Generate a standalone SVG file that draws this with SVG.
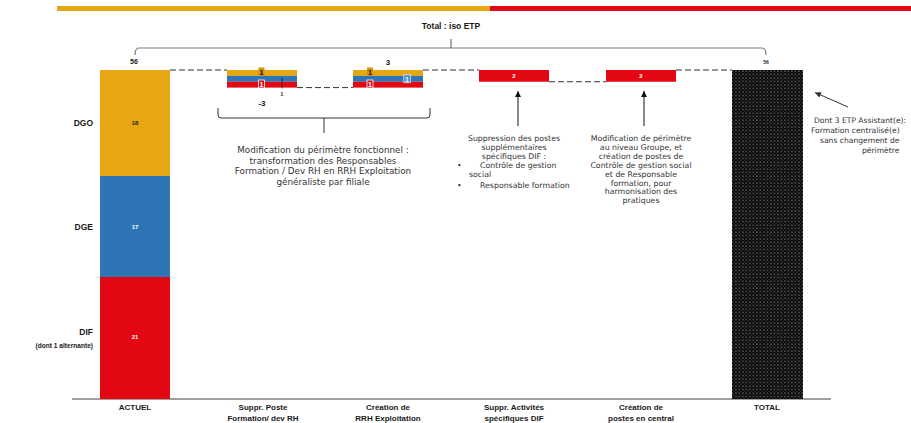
<svg xmlns="http://www.w3.org/2000/svg" width="911" height="423" viewBox="0 0 911 423">
<style>
.lbl{font-family:"Liberation Sans",Arial,sans-serif;font-weight:bold;fill:#1a1a1a}
.ann{font-family:"DejaVu Sans","Liberation Sans",sans-serif;fill:#333}
.val{font-family:"Liberation Sans",Arial,sans-serif;font-weight:bold}
.dash{stroke:#333;stroke-width:1;stroke-dasharray:6 3;fill:none}
.yel{fill:#E8A615}
.blu{fill:#2E75B6}
.red{fill:#E30613}
.arrow{stroke:#111;stroke-width:1;fill:none}
</style>
<defs>
<marker id="ah" viewBox="0 0 10 10" refX="10" refY="5" markerWidth="6" markerHeight="6" markerUnits="userSpaceOnUse" orient="auto">
<path d="M0,0 L10,5 L0,10 z" fill="#111"/>
</marker>
<marker id="ah2" viewBox="0 0 10 10" refX="10" refY="5" markerWidth="6" markerHeight="6" markerUnits="userSpaceOnUse" orient="auto">
<path d="M0,0 L10,5 L0,10 z" fill="#333"/>
</marker>
<pattern id="dots" width="3.5" height="3.5" patternUnits="userSpaceOnUse">
<rect width="3.5" height="3.5" fill="#050505"/>
<circle cx="0.9" cy="0.9" r="0.55" fill="#ffffff"/>
<circle cx="2.65" cy="2.65" r="0.5" fill="#8a8a8a"/>
</pattern>
</defs>

<!-- top colour band -->
<rect x="57" y="6" width="433" height="5" class="yel"/>
<rect x="490" y="6" width="421" height="5" class="red"/>

<!-- title -->
<text x="451" y="29" text-anchor="middle" class="lbl" font-size="8.5">Total : iso ETP</text>

<!-- axis -->
<line x1="72" y1="399" x2="831" y2="399" stroke="#7f7f7f" stroke-width="1.5"/>

<!-- left labels -->
<g id="row-labels">
<text x="93" y="126" text-anchor="end" class="lbl" font-size="8.5">DGO</text>
<text x="93" y="230" text-anchor="end" class="lbl" font-size="8.5">DGE</text>
<text x="93" y="335" text-anchor="end" class="lbl" font-size="8.5">DIF</text>
<text x="93" y="347.5" text-anchor="end" class="lbl" font-size="6.6">(dont 1 alternante)</text>
</g>

<g id="bar-actuel">
<rect x="100" y="70" width="70" height="106" class="yel"/>
<rect x="100" y="176" width="70" height="101" class="blu"/>
<rect x="100" y="277" width="70" height="122" class="red"/>
<text x="135" y="124.7" text-anchor="middle" class="val" font-size="6" fill="#222">18</text>
<text x="135" y="228.7" text-anchor="middle" class="val" font-size="6" fill="#fff">17</text>
<text x="135" y="339.3" text-anchor="middle" class="val" font-size="6" fill="#fff">21</text>
<text x="134" y="64" text-anchor="middle" class="lbl" font-size="7">56</text>
<text x="135" y="410" text-anchor="middle" class="lbl" font-size="8">ACTUEL</text>
</g>

<g id="bar-suppr-poste">
<rect x="227" y="70" width="70" height="5.9" class="yel"/>
<rect x="227" y="75.9" width="70" height="5.85" class="blu"/>
<rect x="227" y="81.75" width="70" height="5.85" class="red"/>
<rect x="258.5" y="67.5" width="6" height="8" fill="#D4930A"/>
<text x="261.5" y="74.5" text-anchor="middle" class="val" font-size="7" fill="#111">1</text>
<rect x="258.5" y="80" width="6" height="8" class="red" stroke="#fff" stroke-width="0.8"/>
<text x="261.5" y="87" text-anchor="middle" class="val" font-size="7" fill="#fff">1</text>
<line x1="282" y1="78" x2="282" y2="88.5" stroke="#111" stroke-width="0.8"/>
<text x="282" y="96" text-anchor="middle" class="val" font-size="5" fill="#222">1</text>
<text x="262" y="106" text-anchor="middle" class="lbl" font-size="8">-3</text>
<text x="263" y="410" text-anchor="middle" class="lbl" font-size="8">Suppr. Poste</text>
<text x="263" y="421" text-anchor="middle" class="lbl" font-size="8">Formation/ dev RH</text>
</g>

<g id="bar-creation-rrh">
<rect x="353" y="70" width="70" height="5.9" class="yel"/>
<rect x="353" y="75.9" width="70" height="5.85" class="blu"/>
<rect x="353" y="81.75" width="70" height="5.85" class="red"/>
<rect x="367" y="67.5" width="6" height="8" fill="#D4930A"/>
<text x="370" y="74.5" text-anchor="middle" class="val" font-size="7" fill="#111">1</text>
<rect x="403.8" y="74.8" width="6.5" height="8" fill="#4A90D9" stroke="#fff" stroke-width="0.6"/>
<text x="407" y="81.8" text-anchor="middle" class="val" font-size="7" fill="#fff">1</text>
<rect x="367" y="80" width="6" height="8" class="red" stroke="#fff" stroke-width="0.8"/>
<text x="370" y="87" text-anchor="middle" class="val" font-size="7" fill="#fff">1</text>
<text x="388" y="64.5" text-anchor="middle" class="lbl" font-size="8">3</text>
<text x="388" y="410" text-anchor="middle" class="lbl" font-size="8">Création de</text>
<text x="388" y="421" text-anchor="middle" class="lbl" font-size="8">RRH Exploitation</text>
</g>

<g id="bar-suppr-activites">
<rect x="479" y="70" width="70" height="11.75" class="red"/>
<text x="514" y="78" text-anchor="middle" class="val" font-size="6" fill="#fff">2</text>
<text x="514" y="410" text-anchor="middle" class="lbl" font-size="8">Suppr. Activités</text>
<text x="514" y="421" text-anchor="middle" class="lbl" font-size="8">spécifiques DIF</text>
</g>

<g id="bar-creation-postes">
<rect x="606" y="70" width="70" height="11.75" class="red"/>
<text x="641" y="78" text-anchor="middle" class="val" font-size="6" fill="#fff">2</text>
<text x="641" y="410" text-anchor="middle" class="lbl" font-size="8">Création de</text>
<text x="641" y="421" text-anchor="middle" class="lbl" font-size="8">postes en central</text>
</g>

<g id="bar-total">
<rect x="732" y="70" width="71" height="329" fill="url(#dots)"/>
<text x="766" y="64" text-anchor="middle" class="lbl" font-size="5">56</text>
<text x="767" y="410" text-anchor="middle" class="lbl" font-size="8">TOTAL</text>
</g>

<g id="note-perimetre" class="ann" font-size="8.8" text-anchor="middle">
<text x="323" y="153">Modification du périmètre fonctionnel :</text>
<text x="323" y="163.5">transformation des Responsables</text>
<text x="323" y="174">Formation / Dev RH en RRH Exploitation</text>
<text x="323" y="184.5">généraliste par filiale</text>
</g>

<g id="note-suppression" class="ann" font-size="7.8">
<text x="514" y="141" text-anchor="middle">Suppression des postes</text>
<text x="514" y="150" text-anchor="middle">supplémentaires</text>
<text x="514" y="159" text-anchor="middle">spécifiques DIF :</text>
<text x="457" y="168">•</text>
<text x="480" y="168">Contrôle de gestion</text>
<text x="469" y="176.8">social</text>
<text x="457" y="188">•</text>
<text x="480" y="188">Responsable formation</text>
</g>

<g id="note-creation" class="ann" font-size="7.8" text-anchor="middle">
<text x="641" y="141">Modification de périmètre</text>
<text x="641" y="150">au niveau Groupe, et</text>
<text x="641" y="159">création de postes de</text>
<text x="641" y="168">Contrôle de gestion social</text>
<text x="641" y="176.8">et de Responsable</text>
<text x="641" y="185.6">formation, pour</text>
<text x="641" y="194.4">harmonisation des</text>
<text x="641" y="203.2">pratiques</text>
</g>

<g id="note-assistant" class="ann" font-size="7.6">
<text x="814" y="123">Dont 3 ETP Assistant(e):</text>
<text x="811" y="133">Formation centralisé(e)</text>
<text x="820" y="143">sans changement de</text>
<text x="862" y="152.5">périmètre</text>
</g>

<g id="connectors">
<path d="M135,55 Q135,48 139,48 L762,48 Q766,48 766,55" fill="none" stroke="#7f7f7f" stroke-width="1.2"/>
<line x1="451" y1="48" x2="451" y2="39" stroke="#555" stroke-width="1"/>
<line x1="170" y1="70" x2="227" y2="70" class="dash"/>
<line x1="297" y1="87.6" x2="353" y2="87.6" class="dash"/>
<line x1="423" y1="70" x2="479" y2="70" class="dash"/>
<line x1="549" y1="81.75" x2="606" y2="81.75" class="dash"/>
<line x1="676" y1="70" x2="732" y2="70" class="dash"/>
<path d="M218,108 L218,115 Q218,118 221,118 L427,118 Q430,118 430,115 L430,108" fill="none" stroke="#333" stroke-width="1"/>
<line x1="324" y1="118" x2="324" y2="133" stroke="#333" stroke-width="1"/>
<line x1="518" y1="126" x2="518" y2="91" class="arrow" marker-end="url(#ah)"/>
<line x1="644" y1="126" x2="644" y2="91" class="arrow" marker-end="url(#ah)"/>
<line x1="848" y1="107" x2="815" y2="92.5" stroke="#333" stroke-width="1" marker-end="url(#ah2)"/>
</g>
</svg>
